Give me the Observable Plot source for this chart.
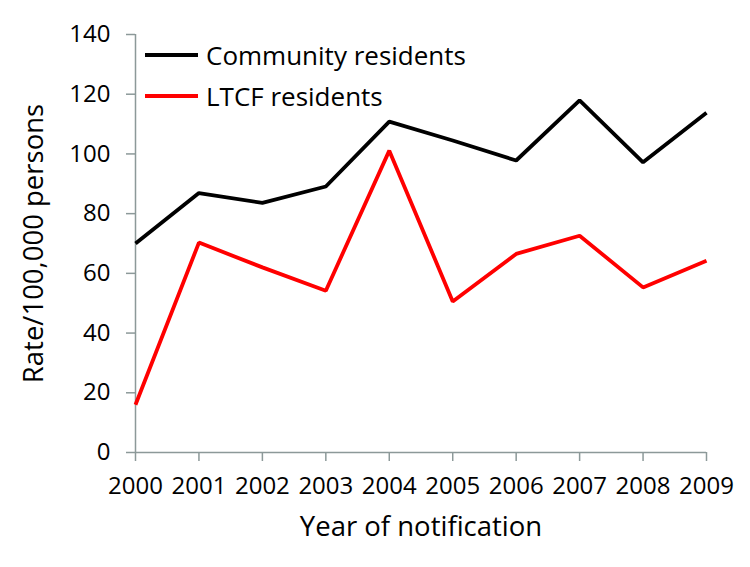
<!DOCTYPE html>
<html>
<head>
<meta charset="utf-8">
<script src="https://cdn.jsdelivr.net/npm/d3@7"></script>
<script src="https://cdn.jsdelivr.net/npm/@observablehq/plot@0.6"></script>
<style>
  html, body { margin: 0; padding: 0; background: #fff; }
  #wrap { position: relative; width: 750px; height: 567px; font-family: "Open Sans", sans-serif; }
  #legend { position: absolute; left: 145px; top: 34px; }
  .row { display: flex; align-items: center; height: 41px; }
  .swatch { width: 53px; height: 4px; margin-right: 8px; }
  .lab { font-size: 26px; color: #000; white-space: nowrap; }
</style>
</head>
<body>
<div id="wrap"><div id="legend"></div></div>
<script>
const years = [2000, 2001, 2002, 2003, 2004, 2005, 2006, 2007, 2008, 2009];
const community = [70, 86.9, 83.6, 89.1, 110.8, 104.5, 97.8, 117.9, 97.2, 113.8];
const ltcf = [16, 70.3, 62, 54.2, 101.1, 50.6, 66.5, 72.6, 55.3, 64.2];
const seriesNames = ["Community residents", "LTCF residents"];
const seriesColors = ["#000000", "#ff0000"];
const yTicks = [0, 20, 40, 60, 80, 100, 120, 140];

const rows = [];
years.forEach((yr, i) => {
  rows.push({year: yr, value: community[i], series: seriesNames[0]});
  rows.push({year: yr, value: ltcf[i], series: seriesNames[1]});
});

const axisColor = "#8c9999";

const chart = Plot.plot({
  width: 750,
  height: 567,
  marginLeft: 135,
  marginRight: 44,
  marginTop: 34,
  marginBottom: 115,
  style: {fontFamily: "Open Sans, sans-serif", fontSize: "24px", color: "#000", background: "#fff"},
  x: {domain: [2000, 2009]},
  y: {domain: [0, 140]},
  color: {domain: seriesNames, range: seriesColors},
  marks: [
    Plot.axisX({ticks: years, tickFormat: d => String(d), tickSize: 9, tickPadding: 15, stroke: axisColor, strokeWidth: 1.5, label: null, fontSize: 24, fill: "#000"}),
    Plot.axisY({ticks: yTicks, tickSize: 9, tickPadding: 16, stroke: axisColor, strokeWidth: 1.5, label: null, fontSize: 24, fill: "#000"}),
    Plot.ruleY([0], {stroke: axisColor, strokeWidth: 1.5}),
    Plot.ruleX([2000], {stroke: axisColor, strokeWidth: 1.5}),
    Plot.line(rows, {x: "year", y: "value", z: "series", stroke: "series", strokeWidth: 3.8, strokeLinejoin: "miter", strokeLinecap: "butt"}),
    Plot.text(["Year of notification"], {frameAnchor: "bottom", dy: 83, fontSize: 27.5, fill: "#000"}),
    Plot.text(["Rate/100,000 persons"], {frameAnchor: "left", textAnchor: "middle", dx: -101, rotate: -90, fontSize: 27.5, fill: "#000"})
  ]
});

const wrap = document.getElementById("wrap");
wrap.insertBefore(chart, wrap.firstChild);

const legend = document.getElementById("legend");
seriesNames.forEach((name, i) => {
  const row = document.createElement("div");
  row.className = "row";
  const sw = document.createElement("span");
  sw.className = "swatch";
  sw.style.background = seriesColors[i];
  const lab = document.createElement("span");
  lab.className = "lab";
  lab.textContent = name;
  row.appendChild(sw);
  row.appendChild(lab);
  legend.appendChild(row);
});
</script>
</body>
</html>
